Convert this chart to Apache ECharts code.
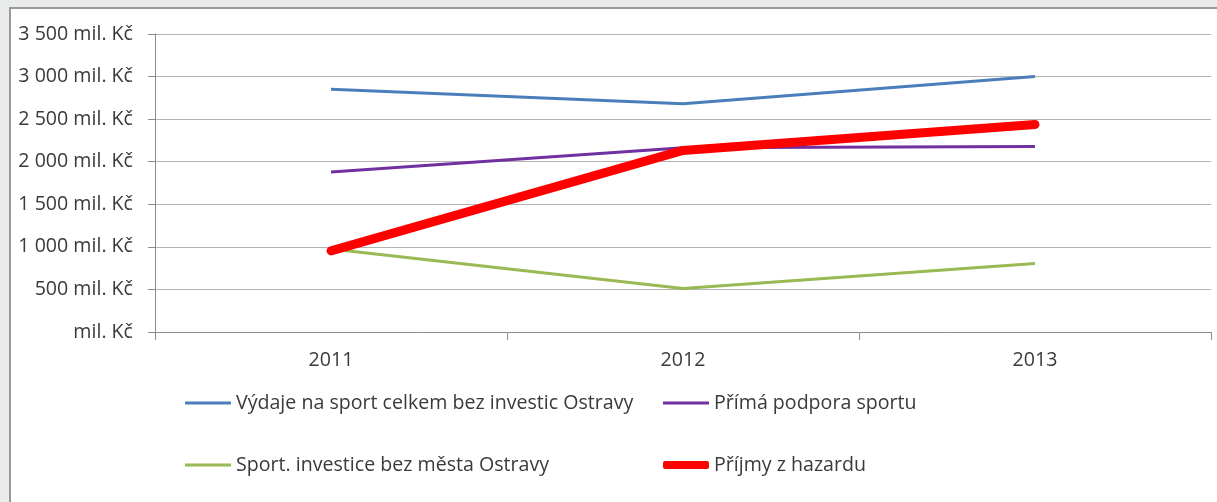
<!DOCTYPE html>
<html>
<head>
<meta charset="utf-8">
<script src="https://cdn.jsdelivr.net/npm/echarts@6/dist/echarts.min.js"></script>
<style>
  html, body { margin: 0; padding: 0; background: #e9ecea; }
  #chart { width: 1217px; height: 502px; }
</style>
</head>
<body>
<div id="chart"></div>
<script>
// ---- data ----
var categories = ['2011', '2012', '2013'];
var seriesNames = [
  'Výdaje na sport celkem bez investic Ostravy',
  'Přímá podpora sportu',
  'Sport. investice bez města Ostravy',
  'Příjmy z hazardu'
];
var vydajeCelkem = [2852, 2680, 3000];
var primaPodpora = [1880, 2165, 2180];
var sportInvestice = [975, 512, 805];
var prijmyHazard = [953, 2133, 2437];
var yTickLabels = ['mil. Kč', '500 mil. Kč', '1 000 mil. Kč', '1 500 mil. Kč', '2 000 mil. Kč',
                   '2 500 mil. Kč', '3 000 mil. Kč', '3 500 mil. Kč'];

var FONT = '"Open Sans", "DejaVu Sans", sans-serif';
var colors = ['#4a7ebb', '#7030a0', '#98b954', '#ff0000'];

function legendItem(name, left, top, h, icon) {
  return {
    data: [name],
    left: left, top: top, orient: 'horizontal', padding: 0,
    icon: icon, itemWidth: 46, itemHeight: h,
    textStyle: { fontFamily: FONT, fontSize: 19.6, color: '#3a3a3a', lineHeight: 24 },
    selectedMode: false
  };
}

var chart = echarts.init(document.getElementById('chart'));
chart.setOption({
  backgroundColor: 'transparent',
  animation: false,
  graphic: [{
    type: 'rect', z: -10, silent: true,
    shape: { x: 10, y: 8, width: 1225, height: 510 },
    style: { fill: '#ffffff', stroke: '#9a9a9a', lineWidth: 2 }
  }],
  grid: { left: 155, right: 6, top: 34, bottom: 170, containLabel: false },
  legend: [
    legendItem(seriesNames[0], 185, 391, 3, 'rect'),
    legendItem(seriesNames[1], 663, 391, 3, 'rect'),
    legendItem(seriesNames[2], 185, 453, 3, 'rect'),
    legendItem(seriesNames[3], 663, 453, 8, 'roundRect')
  ],
  xAxis: {
    type: 'category', data: categories, boundaryGap: true,
    axisLine: { lineStyle: { color: '#8c8c8c', width: 1 } },
    axisTick: { show: true, interval: 0, length: 8, lineStyle: { color: '#8c8c8c' } },
    axisLabel: { fontFamily: FONT, fontSize: 19.6, color: '#3a3a3a', margin: 18 },
    splitLine: { show: false }
  },
  yAxis: {
    type: 'value', min: 0, max: 3500, interval: 500,
    axisLine: { show: true, lineStyle: { color: '#8c8c8c', width: 1 } },
    axisTick: { show: true, length: 7, lineStyle: { color: '#8c8c8c' } },
    axisLabel: {
      fontFamily: FONT, fontSize: 19.6, color: '#3a3a3a', margin: 22,
      formatter: function (v) { return yTickLabels[Math.round(v / 500)]; }
    },
    splitLine: { show: true, lineStyle: { color: '#b3b3b3', width: 1 } }
  },
  series: [
    { name: seriesNames[0], type: 'line', data: vydajeCelkem, symbol: 'none', showSymbol: false,
      itemStyle: { color: colors[0] }, lineStyle: { color: colors[0], width: 3 } },
    { name: seriesNames[1], type: 'line', data: primaPodpora, symbol: 'none', showSymbol: false,
      itemStyle: { color: colors[1] }, lineStyle: { color: colors[1], width: 3 } },
    { name: seriesNames[2], type: 'line', data: sportInvestice, symbol: 'none', showSymbol: false,
      itemStyle: { color: colors[2] }, lineStyle: { color: colors[2], width: 3 } },
    { name: seriesNames[3], type: 'line', data: prijmyHazard, symbol: 'none', showSymbol: false,
      itemStyle: { color: colors[3] }, lineStyle: { color: colors[3], width: 9, cap: 'round', join: 'round' } }
  ]
});
</script>
</body>
</html>
